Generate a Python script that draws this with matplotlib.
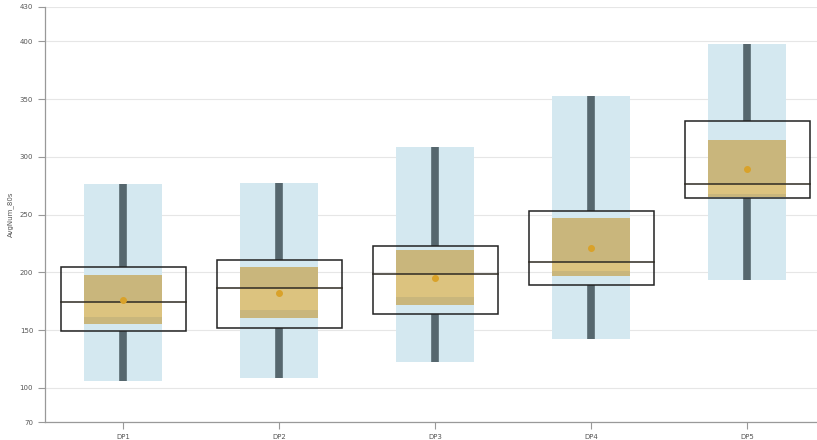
import matplotlib
matplotlib.use("Agg")
import matplotlib.pyplot as plt
from matplotlib.patches import Rectangle

# values
groups = ["DP1", "DP2", "DP3", "DP4", "DP5"]
range_lo = [105.8, 108.7, 122.2, 142.3, 193.4]
range_hi = [276.4, 277.2, 308.7, 352.9, 397.7]
q1 = [149.2, 151.5, 163.9, 189.1, 263.9]
q3 = [204.9, 210.7, 223.1, 253.2, 331.2]
median = [174.3, 186.4, 198.6, 209.3, 276.4]
band_lo = [155.0, 160.2, 171.7, 196.7, 265.0]
band_hi = [197.7, 204.4, 219.4, 246.9, 314.8]
inner_lo = [161.5, 167.4, 178.9, 201.0, 268.0]
means = [175.8, 181.9, 195.4, 221.4, 289.4]
y_ticks = [70, 100, 150, 200, 250, 300, 350, 400, 430]

fig = plt.figure(figsize=(8.17, 4.40), dpi=100)
ax = fig.add_axes([0.055, 0.040, 0.945, 0.945])

box_w = 0.8
band_w = 0.5

for i, g in enumerate(groups):
    # light blue min-max range
    ax.add_patch(Rectangle((i - band_w / 2, range_lo[i]), band_w,
                           range_hi[i] - range_lo[i],
                           facecolor="#d4e8f0", edgecolor="none", zorder=1))
    # whiskers
    ax.plot([i, i], [range_lo[i], q1[i]], color="#56676e", lw=5.5,
            solid_capstyle="butt", zorder=2)
    ax.plot([i, i], [q3[i], range_hi[i]], color="#56676e", lw=5.5,
            solid_capstyle="butt", zorder=2)
    # gold band
    ax.add_patch(Rectangle((i - band_w / 2, band_lo[i]), band_w,
                           band_hi[i] - band_lo[i],
                           facecolor="#c9b67c", edgecolor="none", zorder=3))
    ax.add_patch(Rectangle((i - band_w / 2, inner_lo[i]), band_w,
                           median[i] - inner_lo[i],
                           facecolor="#dcc37f", edgecolor="none", zorder=3))
    # box outline and median
    ax.add_patch(Rectangle((i - box_w / 2, q1[i]), box_w, q3[i] - q1[i],
                           facecolor="none", edgecolor="#222222", lw=1.1,
                           zorder=4))
    ax.plot([i - box_w / 2, i + box_w / 2], [median[i], median[i]],
            color="#2e2a22", lw=1.1, zorder=4)
    # mean marker
    ax.plot(i, means[i], "o", color="#d9a22a", ms=4, zorder=5)

ax.set_xlim(-0.503, 4.446)
ax.set_ylim(70, 430)
ax.set_xticks(range(len(groups)))
ax.set_xticklabels(groups)
ax.set_yticks(y_ticks)
ax.set_ylabel("AvgNum_80s", fontsize=5, color="#555555", labelpad=4)

ax.grid(axis="y", color="#e6e6e6", lw=0.8, zorder=0)
ax.set_axisbelow(True)
for side in ["top", "right"]:
    ax.spines[side].set_visible(False)
for side in ["left", "bottom"]:
    ax.spines[side].set_color("#999999")
    ax.spines[side].set_linewidth(0.9)
ax.tick_params(axis="both", labelsize=5, colors="#555555", length=5,
               width=0.8, color="#999999")

fig.savefig("out.png", dpi=100)
